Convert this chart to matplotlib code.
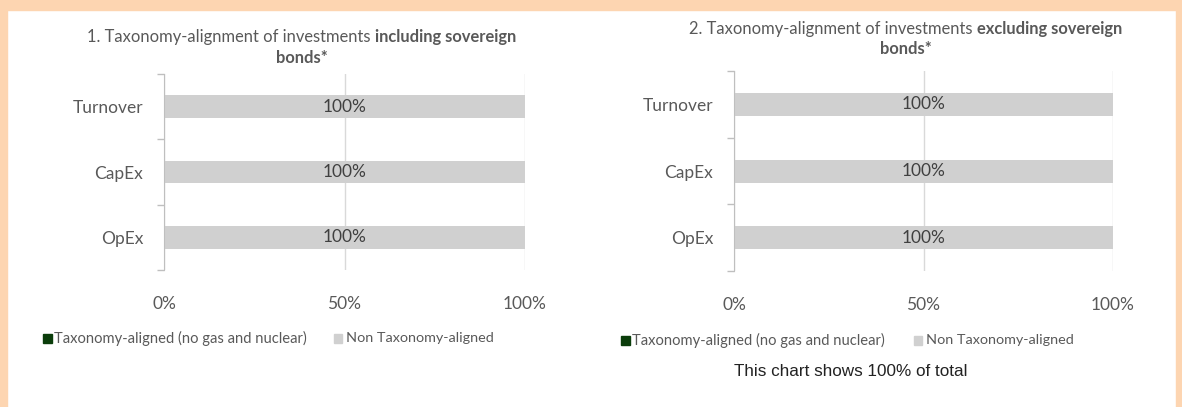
import numpy as np
import matplotlib.pyplot as plt
from matplotlib.patches import Rectangle

# Data
categories = ['Turnover', 'CapEx', 'OpEx']
aligned_incl = [0, 0, 0]        # Taxonomy-aligned (no gas and nuclear), %
non_aligned_incl = [100, 100, 100]
aligned_excl = [0, 0, 0]
non_aligned_excl = [100, 100, 100]
x_ticks = [0, 50, 100]
x_ticklabels = ['0%', '50%', '100%']

green = '#0b3d0b'
grey = '#d0d0d0'
text_col = '#595959'
peach = '#fdd5b1'
font = ['Lato', 'DejaVu Sans']
W, H = 1182, 407

fig = plt.figure(figsize=(W / 100, H / 100), dpi=100)
fig.patch.set_facecolor('white')

# peach frame (top band and side strips)
fig.patches.append(Rectangle((0, 1 - 10 / H), 1, 10 / H, transform=fig.transFigure,
                             color=peach, zorder=0))
fig.patches.append(Rectangle((0, 0), 7 / W, 1, transform=fig.transFigure,
                             color=peach, zorder=0))
fig.patches.append(Rectangle((1 - 6 / W, 0), 6 / W, 1, transform=fig.transFigure,
                             color=peach, zorder=0))

renderer = fig.canvas.get_renderer()


def two_part_title(xc, yc, plain, bold, size):
    t1 = fig.text(0, yc, plain, ha='left', va='center', fontsize=size,
                  color=text_col, family=font)
    t2 = fig.text(0, yc, bold, ha='left', va='center', fontsize=size,
                  color=text_col, family=font, weight='bold')
    w1 = t1.get_window_extent(renderer).width / W
    w2 = t2.get_window_extent(renderer).width / W
    x0 = xc - (w1 + w2) / 2
    t1.set_x(x0)
    t2.set_x(x0 + w1)


def draw_panel(rect, aligned, non_aligned, title_plain, title_bold, title_xy, gap):
    ax = fig.add_axes(rect)
    y = np.arange(len(categories))
    ax.barh(y, aligned, height=0.345, color=green, zorder=3)
    bars = ax.barh(y, non_aligned, left=aligned, height=0.345, color=grey, zorder=3)
    for b, v in zip(bars, non_aligned):
        ax.text(b.get_x() + b.get_width() / 2, b.get_y() + b.get_height() / 2,
                f'{v}%', ha='center', va='center', fontsize=12.5,
                color='#404040', family=font, zorder=4)
    ax.set_xlim(0, 100)
    ax.set_ylim(len(categories) - 0.5, -0.5)
    ax.set_xticks(x_ticks)
    ax.set_xticklabels(x_ticklabels, fontsize=12.5, color=text_col, family=font)
    ax.tick_params(axis='x', length=0, pad=19)
    ax.set_yticks(y)
    ax.set_yticklabels(categories, fontsize=12.5, color=text_col, family=font)
    ax.set_yticks(np.arange(-0.5, len(categories), 1), minor=True)
    ax.tick_params(axis='y', which='major', length=0, pad=15)
    ax.tick_params(axis='y', which='minor', length=5, color='#bfbfbf', width=1)
    ax.grid(axis='x', color='#d9d9d9', linewidth=1, zorder=0)
    for s in ['top', 'right', 'bottom']:
        ax.spines[s].set_visible(False)
    ax.spines['left'].set_color('#bfbfbf')
    ax.spines['left'].set_zorder(5)
    two_part_title(title_xy[0], title_xy[1], title_plain, title_bold, 11.9)
    fig.text(title_xy[0], title_xy[1] - gap / H, 'bonds*', ha='center', va='center',
             fontsize=11.9, color=text_col, family=font, weight='bold')
    return ax


ax1 = draw_panel([164 / W, 1 - 270 / H, 361 / W, 196 / H],
                 aligned_incl, non_aligned_incl,
                 '1. Taxonomy-alignment of investments ', 'including sovereign',
                 (302 / W, 1 - 37 / H), 21)
ax2 = draw_panel([734 / W, 1 - 271 / H, 379 / W, 200 / H],
                 aligned_excl, non_aligned_excl,
                 '2. Taxonomy-alignment of investments ', 'excluding sovereign',
                 (906 / W, 1 - 29 / H), 20)


# legends
def legend_row(x0, yfig, gx):
    fig.patches.append(Rectangle((x0 / W, yfig - 5 / H), 9 / W, 9 / H,
                                 transform=fig.transFigure, color=green))
    fig.text((x0 + 11) / W, yfig, 'Taxonomy-aligned (no gas and nuclear)',
             ha='left', va='center', fontsize=10.6, color=text_col, family=font)
    fig.patches.append(Rectangle(((x0 + gx) / W, yfig - 5 / H), 8 / W, 9 / H,
                                 transform=fig.transFigure, color=grey))
    fig.text((x0 + gx + 12) / W, yfig, 'Non Taxonomy-aligned',
             ha='left', va='center', fontsize=10.4, color=text_col, family=font)


legend_row(43, 1 - 338 / H, 291)
legend_row(621, 1 - 340 / H, 293)

fig.text(851 / W, 1 - 371 / H, 'This chart shows 100% of total', ha='center',
         va='center', fontsize=12.3, color='#222222',
         family=['Liberation Sans', 'DejaVu Sans'])

fig.savefig('out.png', dpi=100)
